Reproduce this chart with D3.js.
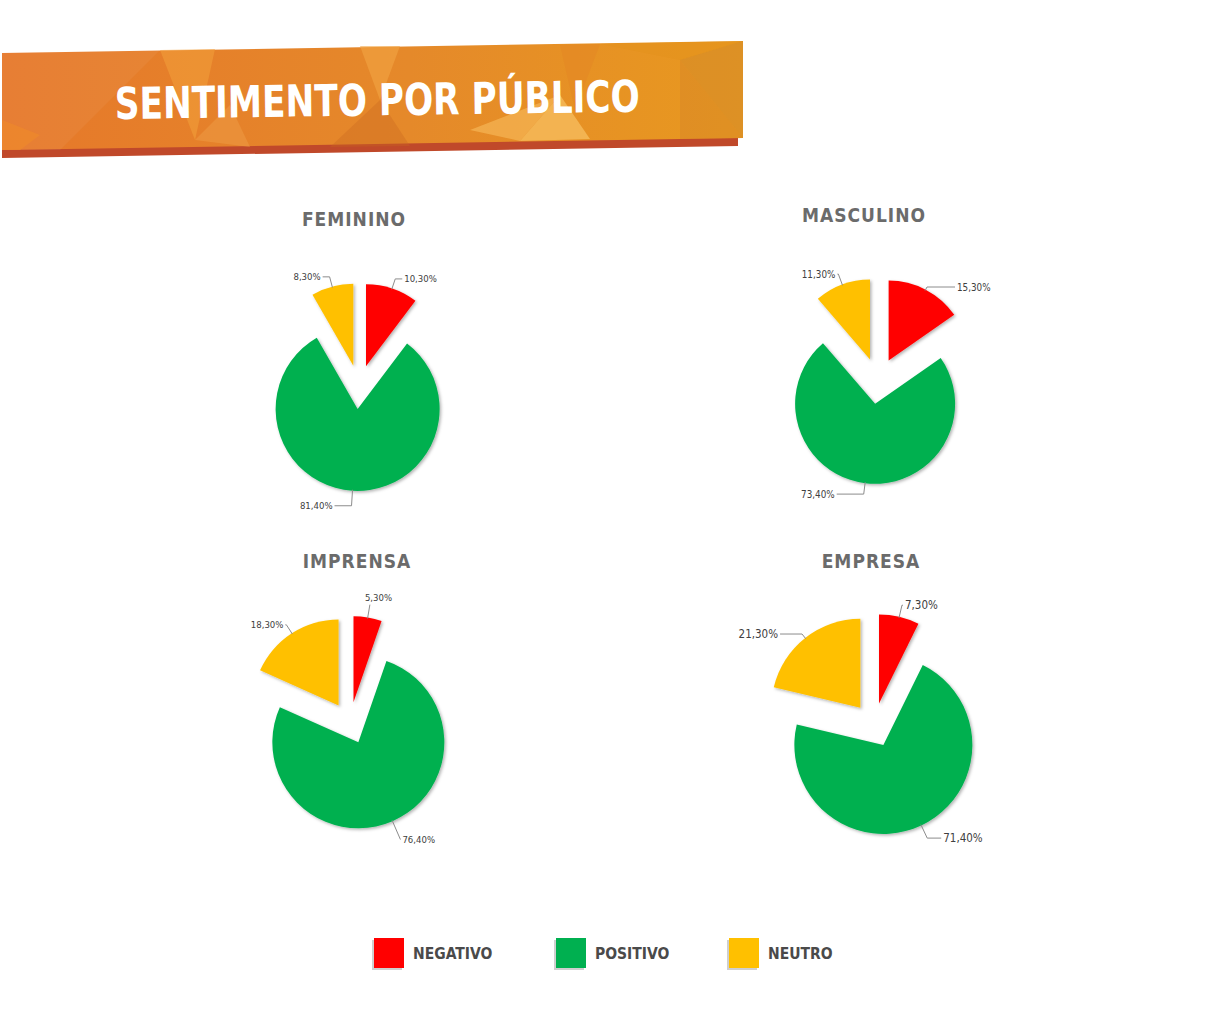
<!DOCTYPE html>
<html>
<head>
<meta charset="utf-8">
<script src="https://cdn.jsdelivr.net/npm/d3@7"></script>
<style>
  body { margin: 0; background: #fff; }
  svg { display: block; }
</style>
</head>
<body>
<div id="chart"></div>
<script>
///////////// Data /////////////////
const publicos = ["FEMININO", "MASCULINO", "IMPRENSA", "EMPRESA"];
const categorias = ["NEGATIVO", "POSITIVO", "NEUTRO"];
const negativo = [10.3, 15.3, 5.3, 7.3];
const positivo = [81.4, 73.4, 76.4, 71.4];
const neutro = [8.3, 11.3, 18.3, 21.3];

///////////// Layout /////////////////
const width = 1205, height = 1018;
const cores = d3.scaleOrdinal().domain(categorias).range(["#ff0000", "#00b050", "#ffc000"]);
const fmt = v => d3.format(".2f")(v).replace(".", ",") + "%";

// centre of each (unexploded) pie, its radius, the explode offset, title position,
// label font size and the leader line shape of each slice: [radial length, horizontal length, mode]
const layout = [
    { cx: 359, cy: 387, r: 82, off: 22, tx: 354, ty: 219, fs: 9.5,
      guias: [[10, 7], [15, 17], [10, 7]] },
    { cx: 878, cy: 381, r: 80, off: 23, tx: 864, ty: 215, fs: 9.8,
      guias: [[3, 28], [11, 27], [11, 1]] },
    { cx: 350, cy: 723, r: 86, off: 21, tx: 357, ty: 561, fs: 9.5,
      guias: [[13, 0, "topo"], [20, 0], [10, 1]] },
    { cx: 874, cy: 725, r: 89, off: 22, tx: 871, ty: 561, fs: 11.5,
      guias: [[12, 1], [14, 14], [5, 22]] }
];

let svg = d3.select("#chart")
    .append("svg")
    .attr("width", width)
    .attr("height", height);

let defs = svg.append("defs");

defs.append("filter")
    .attr("id", "sombra")
    .attr("x", "-20%").attr("y", "-20%")
    .attr("width", "140%").attr("height", "140%")
    .append("feDropShadow")
    .attr("dx", 1.5).attr("dy", 1.5)
    .attr("stdDeviation", 1.5)
    .attr("flood-color", "#000")
    .attr("flood-opacity", 0.3);

let grad = defs.append("linearGradient")
    .attr("id", "faixa")
    .attr("x1", "0%").attr("x2", "100%");
grad.append("stop").attr("offset", "0%").attr("stop-color", "#e6782a");
grad.append("stop").attr("offset", "55%").attr("stop-color", "#e5892a");
grad.append("stop").attr("offset", "100%").attr("stop-color", "#e8991f");

///////////// Banner /////////////////
let banner = svg.append("g");

// dark strip underneath
banner.append("path")
    .attr("d", "M2,145 L738,134 L738,146 L2,158 Z")
    .attr("fill", "#c0492a");

banner.append("path")
    .attr("d", "M2,53 L743,41 L743,138 L2,150 Z")
    .attr("fill", "url(#faixa)");

// low-poly facets
const facetas = [
    ["M2,53 L160,50 L60,150 L2,150 Z", "#ffffff", 0.05],
    ["M160,50 L215,49 L195,140 Z", "#f3a13a", 0.55],
    ["M195,140 L230,105 L250,147 Z", "#f0a04a", 0.45],
    ["M360,46 L400,46 L380,100 Z", "#f2a545", 0.6],
    ["M380,100 L330,147 L410,146 Z", "#c9681f", 0.35],
    ["M470,130 L560,95 L520,141 Z", "#f5b555", 0.7],
    ["M520,141 L560,95 L590,139 Z", "#f7bf60", 0.75],
    ["M560,45 L600,44 L575,110 Z", "#e38524", 0.5],
    ["M600,44 L743,41 L680,60 Z", "#e4921c", 0.5],
    ["M680,60 L743,41 L743,138 Z", "#d48a2a", 0.55],
    ["M680,60 L680,139 L743,138 Z", "#d1822a", 0.35],
    ["M2,120 L40,135 L20,150 L2,150 Z", "#f08a2a", 0.6]
];
banner.selectAll(".faceta")
    .data(facetas)
    .enter()
    .append("path")
    .attr("class", "faceta")
    .attr("d", d => d[0])
    .attr("fill", d => d[1])
    .attr("opacity", d => d[2]);

banner.append("text")
    .attr("x", 115)
    .attr("y", 119)
    .attr("transform", "rotate(-0.8 115 119)")
    .attr("textLength", 525)
    .attr("lengthAdjust", "spacingAndGlyphs")
    .attr("fill", "#fff")
    .style("font-family", "'DejaVu Sans Condensed', 'DejaVu Sans', sans-serif")
    .style("font-weight", "bold")
    .style("font-size", "44px")
    .text("SENTIMENTO POR PÚBLICO");

///////////// Pies /////////////////
const pie = d3.pie().sort(null).value(d => d.valor);
const dir = a => [Math.sin(a), -Math.cos(a)];

publicos.forEach((nome, i) => {
    const L = layout[i];
    const valores = [negativo[i], positivo[i], neutro[i]].map((v, j) => ({ cat: categorias[j], valor: v }));
    const arcos = pie(valores);
    const arc = d3.arc().innerRadius(0).outerRadius(L.r);

    svg.append("text")
        .attr("x", L.tx)
        .attr("y", L.ty)
        .attr("text-anchor", "middle")
        .attr("dominant-baseline", "central")
        .attr("fill", "#6b6b6b")
        .style("font-family", "'DejaVu Sans Condensed', 'DejaVu Sans', sans-serif")
        .style("font-weight", "bold")
        .style("font-size", "19px")
        .style("letter-spacing", "1px")
        .text(nome);

    let gp = svg.append("g")
        .attr("transform", `translate(${L.cx},${L.cy})`);

    gp.selectAll("path.fatia")
        .data(arcos)
        .enter()
        .append("path")
        .attr("class", "fatia")
        .attr("d", arc)
        .attr("fill", d => cores(d.data.cat))
        .attr("filter", "url(#sombra)")
        .attr("transform", d => {
            const [dx, dy] = dir((d.startAngle + d.endAngle) / 2);
            return `translate(${dx * L.off},${dy * L.off})`;
        });

    // leader lines and labels
    arcos.forEach((d, j) => {
        const [ext, hor, modo] = L.guias[j];
        const [dx, dy] = dir((d.startAngle + d.endAngle) / 2);
        const p0 = [dx * (L.off + L.r - 1), dy * (L.off + L.r - 1)];
        const p1 = [dx * (L.off + L.r + ext), dy * (L.off + L.r + ext)];
        const lado = dx >= 0 ? 1 : -1;
        const p2 = [p1[0] + lado * hor, p1[1]];

        gp.append("polyline")
            .attr("points", [p0, p1, p2].map(p => p.join(",")).join(" "))
            .attr("fill", "none")
            .attr("stroke", "#8c8c8c")
            .attr("stroke-width", 1);

        let t = gp.append("text")
            .attr("dominant-baseline", "central")
            .attr("fill", "#404040")
            .style("font-family", "'DejaVu Sans Condensed', 'DejaVu Sans', sans-serif")
            .style("font-size", L.fs + "px")
            .text(fmt(d.data.valor));

        if (modo === "topo") {
            t.attr("x", p2[0] - 5).attr("y", p2[1] - 7).attr("text-anchor", "start");
        } else {
            t.attr("x", p2[0] + lado * 2).attr("y", p2[1])
                .attr("text-anchor", lado > 0 ? "start" : "end");
        }
    });
});

///////////// Legend /////////////////
const legendX = d3.scaleOrdinal().domain(categorias).range([374, 556, 729]);

let leg = svg.append("g")
    .selectAll("g")
    .data(categorias)
    .enter()
    .append("g")
    .attr("transform", d => `translate(${legendX(d)},938)`);

leg.append("rect")
    .attr("x", -2).attr("y", 2)
    .attr("width", 30).attr("height", 30)
    .attr("fill", "#cfcfcf");

leg.append("rect")
    .attr("width", 30).attr("height", 30)
    .attr("fill", d => cores(d));

leg.append("text")
    .attr("x", 39)
    .attr("y", 16)
    .attr("dominant-baseline", "central")
    .attr("fill", "#4a4a4a")
    .style("font-family", "'DejaVu Sans Condensed', 'DejaVu Sans', sans-serif")
    .style("font-weight", "bold")
    .style("font-size", "15.5px")
    .text(d => d);
</script>
</body>
</html>
